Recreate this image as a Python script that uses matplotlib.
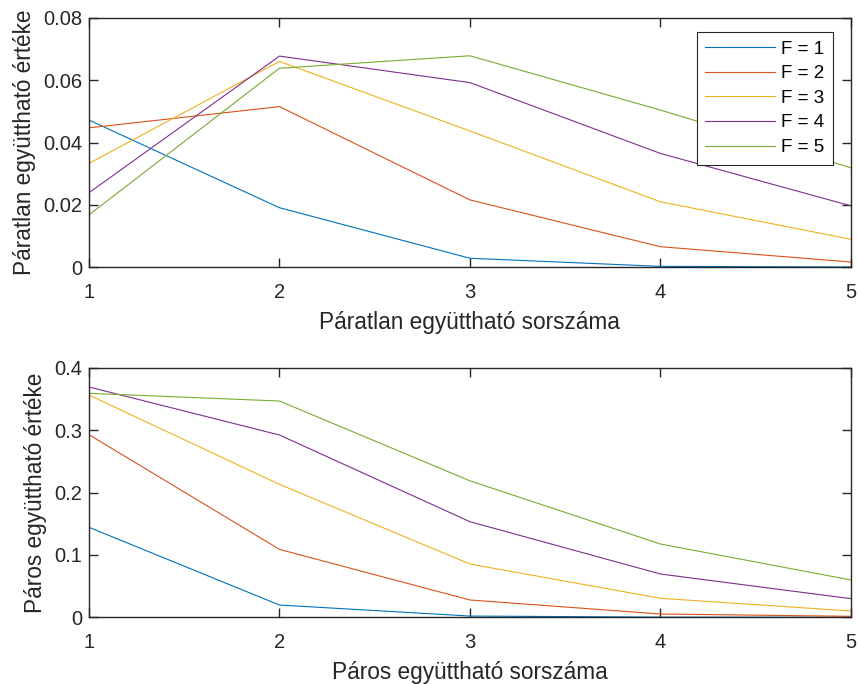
"""Paratlan es paros egyutthatok ertekei F szerint."""

import matplotlib

matplotlib.use("Agg")
import matplotlib.pyplot as plt
from matplotlib.ticker import FuncFormatter

plt.rcParams["font.family"] = ["Liberation Sans", "DejaVu Sans"]

INDEX = [1, 2, 3, 4, 5]
LABELS = ["F = 1", "F = 2", "F = 3", "F = 4", "F = 5"]
COLORS = ["#0072BD", "#D95319", "#EDB120", "#7E2F8E", "#77AC30"]

# paratlan egyutthatok (felso abra)
ODD_F1 = [0.0472, 0.0191, 0.0029, 0.0003, 0.0001]
ODD_F2 = [0.0447, 0.0515, 0.0216, 0.0066, 0.0017]
ODD_F3 = [0.0333, 0.0660, 0.0437, 0.0210, 0.0090]
ODD_F4 = [0.0239, 0.0677, 0.0592, 0.0365, 0.0197]
ODD_F5 = [0.0168, 0.0638, 0.0678, 0.0504, 0.0319]

# paros egyutthatok (also abra)
EVEN_F1 = [0.1444, 0.0197, 0.0020, 0.0003, 0.0001]
EVEN_F2 = [0.2930, 0.1090, 0.0278, 0.0053, 0.0016]
EVEN_F3 = [0.3566, 0.2133, 0.0855, 0.0305, 0.0101]
EVEN_F4 = [0.3695, 0.2925, 0.1534, 0.0695, 0.0299]
EVEN_F5 = [0.3594, 0.3470, 0.2190, 0.1176, 0.0599]

ODD_TICKS = [0, 0.02, 0.04, 0.06, 0.08]
EVEN_TICKS = [0, 0.1, 0.2, 0.3, 0.4]

AX_COLOR = "#262626"


def style_axes(ax, yticks, xlabel, ylabel):
    ax.set_xlim(1, 5)
    ax.set_ylim(yticks[0], yticks[-1])
    ax.set_xticks(INDEX)
    ax.set_yticks(yticks)
    ax.yaxis.set_major_formatter(FuncFormatter(lambda v, _: f"{v:g}"))
    ax.tick_params(
        direction="in",
        top=True,
        right=True,
        length=6.5,
        width=1.0,
        color=AX_COLOR,
        labelcolor=AX_COLOR,
        labelsize=14.5,
    )
    ax.tick_params(axis="x", pad=11)
    ax.tick_params(axis="y", pad=5)
    for spine in ax.spines.values():
        spine.set_linewidth(1.0)
        spine.set_color(AX_COLOR)
    ax.set_xlabel(xlabel, fontsize=16.3, color=AX_COLOR, labelpad=6.5)
    ax.set_ylabel(ylabel, fontsize=16.3, color=AX_COLOR, labelpad=5)


def main():
    fig = plt.figure(figsize=(8.58, 6.84), dpi=100)

    ax1 = fig.add_axes([0.1037, 0.6092, 0.888, 0.3649])
    odd = [ODD_F1, ODD_F2, ODD_F3, ODD_F4, ODD_F5]
    for values, color, label in zip(odd, COLORS, LABELS):
        ax1.plot(INDEX, values, color=color, linewidth=0.8, label=label)
    style_axes(
        ax1,
        ODD_TICKS,
        "Páratlan együttható sorszáma",
        "Páratlan együttható értéke",
    )
    legend = ax1.legend(
        loc="upper right",
        bbox_to_anchor=(0.9764, 0.9427),
        borderaxespad=0,
        fontsize=13.5,
        handlelength=3.7,
        handletextpad=0.35,
        labelspacing=0.4,
        borderpad=0.45,
        fancybox=False,
        framealpha=1,
        edgecolor=AX_COLOR,
    )
    legend.get_frame().set_linewidth(0.8)

    ax2 = fig.add_axes([0.1037, 0.0975, 0.888, 0.3645])
    even = [EVEN_F1, EVEN_F2, EVEN_F3, EVEN_F4, EVEN_F5]
    for values, color, label in zip(even, COLORS, LABELS):
        ax2.plot(INDEX, values, color=color, linewidth=0.8, label=label)
    style_axes(
        ax2,
        EVEN_TICKS,
        "Páros együttható sorszáma",
        "Páros együttható értéke",
    )

    fig.savefig("out.png", dpi=100)
    plt.close(fig)


if __name__ == "__main__":
    main()
